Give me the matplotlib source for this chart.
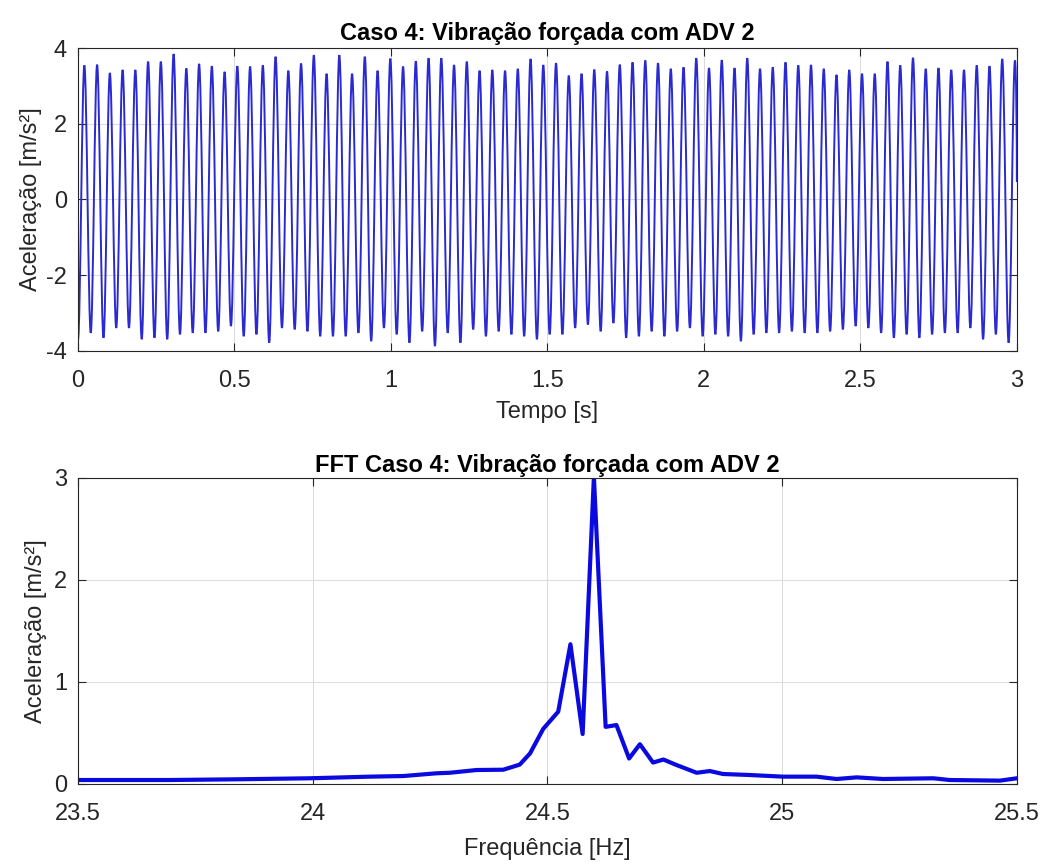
import numpy as np
import matplotlib
matplotlib.use("Agg")
import matplotlib.pyplot as plt
from matplotlib.path import Path
from matplotlib.patches import PathPatch

plt.rcParams['font.family'] = ['Liberation Sans', 'DejaVu Sans']
plt.rcParams['axes.unicode_minus'] = False

# --- time signal: amplitude of each positive peak and each negative trough
period = 0.040735          # s, about 24.55 Hz
peaks = [3.54, 3.56, 3.34, 3.42, 3.42, 3.64, 3.64, 3.84, 3.46, 3.58,
         3.52, 3.37, 3.52, 3.51, 3.54, 3.77, 3.40, 3.59, 3.81, 3.32,
         3.81, 3.32, 3.77, 3.40, 3.72, 3.51, 3.65, 3.73, 3.73, 3.55,
         3.64, 3.40, 3.42, 3.40, 3.45, 3.71, 3.55, 3.60, 3.27, 3.32,
         3.43, 3.38, 3.56, 3.62, 3.67, 3.60, 3.45, 3.49, 3.73, 3.47,
         3.68, 3.47, 3.73, 3.45, 3.49, 3.62, 3.54, 3.55, 3.45, 3.29,
         3.42, 3.32, 3.32, 3.64, 3.54, 3.74, 3.45, 3.47, 3.42, 3.42,
         3.54, 3.52, 3.71, 3.67]
troughs = [-3.70, -3.52, -3.65, -3.39, -3.39, -3.69, -3.65, -3.69, -3.56, -3.52,
           -3.52, -3.48, -3.34, -3.61, -3.56, -3.78, -3.39, -3.43, -3.48, -3.61,
           -3.61, -3.61, -3.52, -3.74, -3.39, -3.56, -3.78, -3.48, -3.87, -3.52,
           -3.78, -3.43, -3.61, -3.48, -3.56, -3.61, -3.69, -3.56, -3.56, -3.39,
           -3.30, -3.48, -3.26, -3.65, -3.61, -3.48, -3.61, -3.48, -3.39, -3.61,
           -3.56, -3.61, -3.74, -3.56, -3.52, -3.52, -3.48, -3.52, -3.52, -3.48,
           -3.43, -3.34, -3.39, -3.52, -3.65, -3.56, -3.65, -3.56, -3.52, -3.52,
           -3.39, -3.69, -3.56, -3.78]
t_end, a_end = 3.0, 0.46

# --- spectrum
freq = [23.500, 23.696, 23.838, 23.994, 24.122, 24.193, 24.264, 24.292, 24.349,
        24.406, 24.441, 24.463, 24.491, 24.523, 24.549, 24.575, 24.599, 24.624,
        24.647, 24.674, 24.697, 24.725, 24.747, 24.775, 24.818, 24.846, 24.874,
        24.931, 25.002, 25.073, 25.116, 25.159, 25.215, 25.322, 25.357, 25.464,
        25.500]
amp = [0.039, 0.039, 0.046, 0.056, 0.072, 0.078, 0.105, 0.110, 0.137,
       0.140, 0.190, 0.300, 0.540, 0.709, 1.370, 0.490, 3.010, 0.560,
       0.578, 0.250, 0.390, 0.210, 0.240, 0.186, 0.110, 0.127, 0.098,
       0.088, 0.072, 0.072, 0.049, 0.065, 0.049, 0.056, 0.039, 0.033,
       0.056]

# interleave troughs and peaks: trough k at k*T, peak k at (k-0.5)*T
y = np.empty(len(troughs) + len(peaks))
y[0::2] = troughs
y[1::2] = peaks
t = np.arange(len(y)) * period / 2

# smooth half-cycles between extremes (flat tangents at peaks/troughs)
h = 0.36 * period / 2
verts = [(t[0], y[0])]
codes = [Path.MOVETO]
for i in range(1, len(t)):
    verts += [(t[i - 1] + h, y[i - 1]), (t[i] - h, y[i]), (t[i], y[i])]
    codes += [Path.CURVE4] * 3
verts += [(t[-1] + h * 0.5, y[-1]), (t_end, a_end + 1.2), (t_end, a_end)]
codes += [Path.CURVE4] * 3
wave = Path(verts, codes)

dark = '#262626'
fig = plt.figure(figsize=(10.44, 8.64), dpi=100)
ax1 = fig.add_axes([0.0747, 0.5938, 0.8993, 0.3506])
ax2 = fig.add_axes([0.0747, 0.0926, 0.8993, 0.3542])

ax1.add_patch(PathPatch(wave, facecolor='none', edgecolor='#2a2ad0', lw=1.4))
ax1.set_xlim(0, 3)
ax1.set_ylim(-4, 4)
ax1.set_xticks(np.arange(0, 3.01, 0.5))
ax1.set_xticklabels(['0', '0.5', '1', '1.5', '2', '2.5', '3'])
ax1.set_yticks([-4, -2, 0, 2, 4])
ax1.set_title('Caso 4: Vibração forçada com ADV 2', fontsize=17, fontweight='bold', pad=6)
ax1.set_xlabel('Tempo [s]', fontsize=17, color=dark, labelpad=6)
ax1.set_ylabel('Aceleração [m/s²]', fontsize=17, color=dark, labelpad=3)

ax2.plot(freq, amp, color='#0a0ae0', lw=3)
ax2.set_xlim(23.5, 25.5)
ax2.set_ylim(0, 3)
ax2.set_xticks([23.5, 24, 24.5, 25, 25.5])
ax2.set_xticklabels(['23.5', '24', '24.5', '25', '25.5'])
ax2.set_yticks([0, 1, 2, 3])
ax2.set_title('FFT Caso 4: Vibração forçada com ADV 2', fontsize=17, fontweight='bold', pad=4)
ax2.set_xlabel('Frequência [Hz]', fontsize=17, color=dark, labelpad=9)
ax2.set_ylabel('Aceleração [m/s²]', fontsize=17, color=dark, labelpad=5)

for ax in (ax1, ax2):
    ax.grid(True, color='#dcdcdc', lw=0.8)
    ax.set_axisbelow(True)
    ax.tick_params(direction='in', top=True, right=True, length=6, width=0.8,
                   labelsize=17, colors=dark)
    ax.tick_params(axis='x', pad=14)
    ax.tick_params(axis='y', pad=8)
    for s in ax.spines.values():
        s.set_color(dark)
        s.set_linewidth(0.8)

fig.savefig('out.png', dpi=100)
